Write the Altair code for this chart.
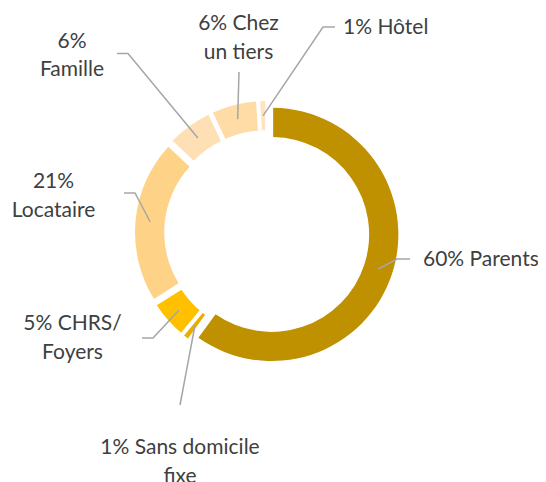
import math
import altair as alt
import pandas as pd

# ---- data ----
categories = ["Parents", "Sans domicile fixe", "CHRS/ Foyers", "Locataire", "Famille", "Chez un tiers", "Hôtel"]
values = [60, 1, 5, 21, 6, 6, 1]
label_lines = [
    ["60% Parents"],
    ["1% Sans domicile", "fixe"],
    ["5% CHRS/", "Foyers"],
    ["21%", "Locataire"],
    ["6%", "Famille"],
    ["6% Chez", "un tiers"],
    ["1% Hôtel"],
]
colors = ["#BF9000", "#E9AE00", "#FFC000", "#FFD387", "#FFE0B5", "#FFDBA6", "#FFE3BE"]

# ---- layout / style ----
W, H = 530, 474
CX, CY = 258.8, 224.8
R_OUT, R_IN = 126.7, 97.5
EXPLODE = 5.1
RM = (R_IN + R_OUT) / 2
label_anchor = {  # first-line positions (plot px) and alignment
    "Parents": (415, 252, "left"),
    "Sans domicile fixe": (172, 440, "center"),
    "CHRS/ Foyers": (64.5, 316, "center"),
    "Locataire": (45.5, 174, "center"),
    "Famille": (64, 33.5, "center"),
    "Chez un tiers": (230.5, 16, "center"),
    "Hôtel": (335, 20, "left"),
}
leader_bends = {  # extra leader points after the slice point
    "Parents": [(389, 251), (402, 251)],
    "Sans domicile fixe": [(172, 397)],
    "CHRS/ Foyers": [(145, 330), (134, 330)],
    "Locataire": [(127, 185), (116, 185)],
    "Famille": [(120, 45.5), (109, 45.5)],
    "Chez un tiers": [(231, 64)],
    "Hôtel": [(315, 19), (327, 19)],
}

total = sum(values)
rows, lrows = [], []
cum = 0.0
for i, (c, v) in enumerate(zip(categories, values)):
    start, end = cum, cum + v
    cum = end
    mid = (start + v / 2) / total * 2 * math.pi
    px = CX + EXPLODE * math.sin(mid)
    py = CY - EXPLODE * math.cos(mid)
    ax, ay, al = label_anchor[c]
    rows.append(dict(category=c, value=v, start=start, end=end, px=px, py=py,
                     label=label_lines[i], lx=ax, ly=ay, align=al))
    pts = [(CX + (EXPLODE + RM) * math.sin(mid), CY - (EXPLODE + RM) * math.cos(mid))] + leader_bends[c]
    for j, (x, y) in enumerate(pts):
        lrows.append(dict(category=c, seq=j, x=x, y=y))

df = pd.DataFrame(rows)
ldf = pd.DataFrame(lrows)

arcs = alt.Chart(df).mark_arc(innerRadius=R_IN, outerRadius=R_OUT, padAngle=0.019).encode(
    theta=alt.Theta("start:Q", stack=None, scale=alt.Scale(domain=[0, total], range=[0, 2 * math.pi])),
    theta2="end:Q",
    x=alt.X("px:Q", scale=None),
    y=alt.Y("py:Q", scale=None),
    color=alt.Color("category:N", scale=alt.Scale(domain=categories, range=colors), legend=None),
)

leaders = alt.Chart(ldf).mark_line(color="#A6A6A6", strokeWidth=1.5).encode(
    x=alt.X("x:Q", scale=None),
    y=alt.Y("y:Q", scale=None),
    detail="category:N",
    order="seq:Q",
)

txt_kw = dict(font="Lato", fontSize=21, color="#404040", baseline="middle", lineHeight=28.5)
texts_left = alt.Chart(df).transform_filter("datum.align == 'left'").mark_text(align="left", **txt_kw).encode(
    x=alt.X("lx:Q", scale=None), y=alt.Y("ly:Q", scale=None), text="label")
texts_center = alt.Chart(df).transform_filter("datum.align == 'center'").mark_text(align="center", **txt_kw).encode(
    x=alt.X("lx:Q", scale=None), y=alt.Y("ly:Q", scale=None), text="label")

chart = alt.layer(arcs, leaders, texts_left, texts_center).properties(
    width=W, height=H, padding=0, autosize="none"
).configure_view(stroke=None)

chart.save("out.html", embed_options={"renderer": "svg", "actions": False})
